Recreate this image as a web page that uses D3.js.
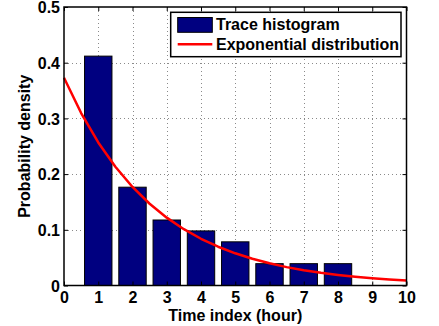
<!DOCTYPE html>
<html>
<head>
<meta charset="utf-8">
<script src="https://cdn.jsdelivr.net/npm/d3@7"></script>
<style>
  html, body { margin: 0; padding: 0; background: #fff; }
  svg { display: block; }
  text { font-family: "Liberation Sans", Arial, Helvetica, sans-serif; font-weight: bold; }
</style>
</head>
<body>
<svg id="chart" width="439" height="326"></svg>
<script>
// Histogram of traces (bin centers in hours, probability density)
const binCenters = [1, 2, 3, 4, 5, 6, 7, 8, 9, 10];
const histDensity = [0.4118, 0.1765, 0.1176, 0.0980, 0.0784, 0.0392, 0.0392, 0.0392, 0, 0];

// Fitted exponential distribution (sampled)
const expX = [0, 0.5, 1, 1.5, 2, 2.5, 3, 3.5, 4, 4.5, 5, 5.5, 6, 6.5, 7, 7.5, 8, 8.5, 9, 9.5, 10];
const expY = [0.3730, 0.3096, 0.2569, 0.2132, 0.1769, 0.1468, 0.1218, 0.1011, 0.0839, 0.0696,
              0.0578, 0.0480, 0.0398, 0.0330, 0.0274, 0.0227, 0.0189, 0.0157, 0.0130, 0.0108, 0.0089];

const xTicks = [0, 1, 2, 3, 4, 5, 6, 7, 8, 9, 10];
const yTicks = [0, 0.1, 0.2, 0.3, 0.4, 0.5];
const legendLabels = ["Trace histogram", "Exponential distribution"];
const xLabel = "Time index (hour)";
const yLabel = "Probability density";

const L = 64, R = 406.5, T = 7, B = 285.5;
const FS = 16;

const svg = d3.select("#chart");
const x = d3.scaleLinear().domain([0, 10]).range([L, R]);
const y = d3.scaleLinear().domain([0, 0.5]).range([B, T]);

// grid
const grid = svg.append("g").attr("stroke", "#8a8a8a").attr("stroke-width", 1)
  .attr("stroke-dasharray", "1,3").attr("fill", "none");
grid.selectAll(".gx").data(xTicks.filter(d => d > 0 && d < 10)).join("line")
  .attr("x1", d => Math.round(x(d)) + 0.5).attr("x2", d => Math.round(x(d)) + 0.5)
  .attr("y1", T).attr("y2", B);
grid.selectAll(".gy").data(yTicks.filter(d => d > 0 && d < 0.5)).join("line")
  .attr("y1", d => Math.round(y(d)) + 0.5).attr("y2", d => Math.round(y(d)) + 0.5)
  .attr("x1", L).attr("x2", R);

// bars
const bw = x(0.8) - x(0);
svg.append("g").selectAll("rect").data(binCenters.map((c, i) => ({c, v: histDensity[i]})).filter(d => d.v > 0))
  .join("rect")
  .attr("x", d => x(d.c) - bw / 2)
  .attr("y", d => y(d.v))
  .attr("width", bw)
  .attr("height", d => y(0) - y(d.v))
  .attr("fill", "#000080")
  .attr("stroke", "#000")
  .attr("stroke-width", 1);

// exponential curve
const line = d3.line().x((d, i) => x(expX[i])).y(d => y(d));
svg.append("path").datum(expY).attr("d", line)
  .attr("fill", "none").attr("stroke", "#ff0000").attr("stroke-width", 2.5)
  .attr("stroke-linejoin", "round");

// axes
const tickLen = 4;
const axB = d3.axisBottom(x).tickValues(xTicks).tickFormat(d3.format("d"))
  .tickSizeInner(-tickLen).tickSizeOuter(0).tickPadding(6);
const axL = d3.axisLeft(y).tickValues(yTicks).tickFormat(d => d === 0 ? "0" : d3.format(".1f")(d))
  .tickSizeInner(-tickLen).tickSizeOuter(0).tickPadding(4);
const axT = d3.axisTop(x).tickValues(xTicks).tickFormat("").tickSizeInner(-tickLen).tickSizeOuter(0);
const axR = d3.axisRight(y).tickValues(yTicks).tickFormat("").tickSizeInner(-tickLen).tickSizeOuter(0);

function style(g) {
  g.select(".domain").remove();
  g.selectAll("line").attr("stroke", "#000").attr("stroke-width", 1);
  g.selectAll("text").attr("fill", "#000").style("font-size", FS + "px").style("font-weight", "bold")
   .style("font-family", '"Liberation Sans", Arial, sans-serif');
}
svg.append("g").attr("transform", `translate(0,${B})`).call(axB).call(style);
const gL = svg.append("g").attr("transform", `translate(${L},0)`).call(axL).call(style);
gL.selectAll("text").attr("dy", "0.36em");
svg.append("g").attr("transform", `translate(0,${T})`).call(axT).call(style);
svg.append("g").attr("transform", `translate(${R},0)`).call(axR).call(style);

// box
svg.append("rect").attr("x", L).attr("y", T).attr("width", R - L).attr("height", B - T)
  .attr("fill", "none").attr("stroke", "#000").attr("stroke-width", 1.5);

// legend
const lg = svg.append("g");
lg.append("rect").attr("x", 170.7).attr("y", 12.3).attr("width", 230.3).attr("height", 44.4)
  .attr("fill", "#fff").attr("stroke", "#000").attr("stroke-width", 1.5);
lg.append("rect").attr("x", 177.7).attr("y", 17.5).attr("width", 34.6).attr("height", 14.8)
  .attr("fill", "#000080").attr("stroke", "#000").attr("stroke-width", 1);
lg.append("line").attr("x1", 177.7).attr("x2", 212.3).attr("y1", 44.3).attr("y2", 44.3)
  .attr("stroke", "#ff0000").attr("stroke-width", 2.5);
lg.selectAll("text").data(legendLabels).join("text")
  .attr("x", 216).attr("y", (d, i) => [30, 50][i])
  .style("font-size", FS + "px").attr("fill", "#000").text(d => d);

// axis labels
svg.append("text").attr("x", (L + R) / 2).attr("y", 320.5).attr("text-anchor", "middle")
  .style("font-size", FS + "px").text(xLabel);
svg.append("text").attr("transform", `translate(29.5,${(T + B) / 2}) rotate(-90)`)
  .attr("text-anchor", "middle").style("font-size", FS + "px").text(yLabel);
</script>
</body>
</html>
